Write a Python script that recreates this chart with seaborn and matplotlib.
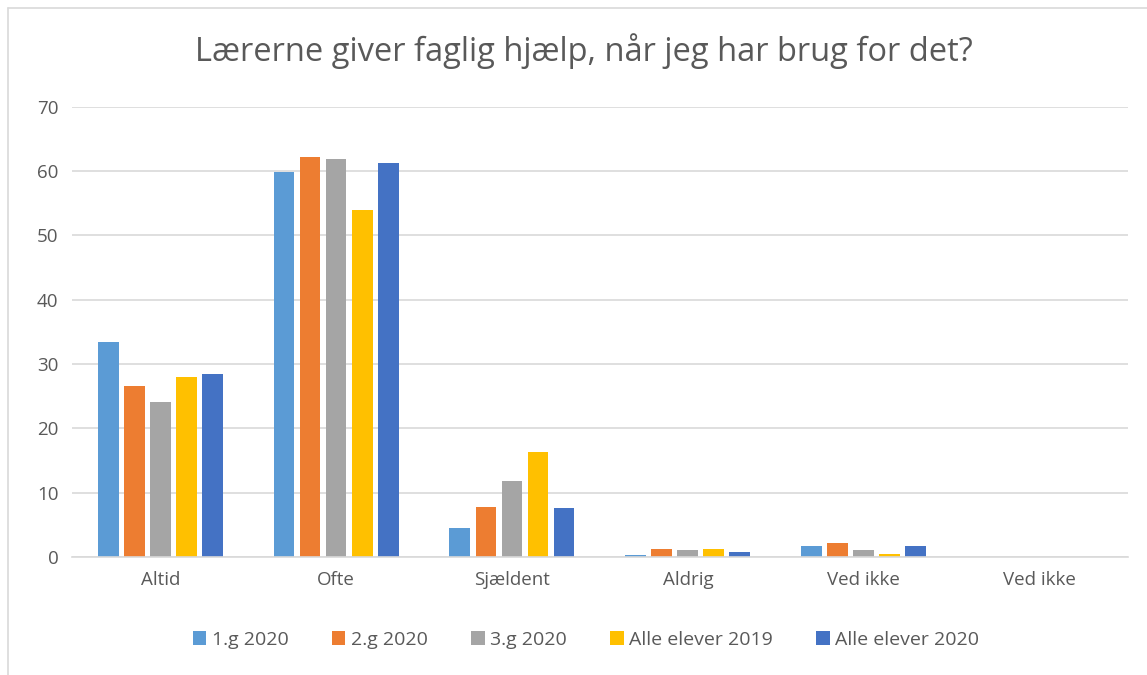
import numpy as np
import pandas as pd
import matplotlib
matplotlib.use("Agg")
import matplotlib.pyplot as plt
import seaborn as sns

# data (percent)
categories = ["Altid", "Ofte", "Sjældent", "Aldrig", "Ved ikke", "Ved ikke"]
series = ["1.g 2020", "2.g 2020", "3.g 2020", "Alle elever 2019", "Alle elever 2020"]
g1_2020 = [33.4, 59.9, 4.5, 0.3, 1.7, 0]
g2_2020 = [26.6, 62.1, 7.7, 1.3, 2.1, 0]
g3_2020 = [24.1, 61.9, 11.8, 1.0, 1.0, 0]
alle_2019 = [28.0, 54.0, 16.3, 1.3, 0.4, 0]
alle_2020 = [28.5, 61.3, 7.6, 0.8, 1.7, 0]
colors = ["#5B9BD5", "#ED7D31", "#A5A5A5", "#FFC000", "#4472C4"]

rows = []
for name, vals in zip(series, [g1_2020, g2_2020, g3_2020, alle_2019, alle_2020]):
    for i, v in enumerate(vals):
        rows.append({"pos": i, "serie": name, "value": v})
df = pd.DataFrame(rows)

sns.set_style("white")
plt.rcParams['font.family'] = ['Open Sans', 'DejaVu Sans']
text_col = "#595959"

fig = plt.figure(figsize=(11.47, 6.75), dpi=100)
ax = fig.add_axes([0.063, 0.175, 0.92, 0.667])

sns.barplot(data=df, x="pos", y="value", hue="serie", hue_order=series,
            palette=colors, saturation=1, width=0.74, gap=0.2, linewidth=0, ax=ax)

ax.set_ylim(0, 70)
ax.set_yticks(np.arange(0, 71, 10))
ax.set_xlim(-0.5, len(categories) - 0.5)
ax.set_xticks(range(len(categories)))
ax.set_xticklabels(categories)
ax.set_xlabel("")
ax.set_ylabel("")
ax.grid(axis="y", color="#D9D9D9", linewidth=1.2)
ax.set_axisbelow(True)
for s in ["top", "right", "left"]:
    ax.spines[s].set_visible(False)
ax.spines["bottom"].set_color("#D9D9D9")
ax.spines["bottom"].set_linewidth(1.2)
ax.tick_params(axis="both", length=0, colors=text_col, labelsize=13.5, pad=10)

fig.text(0.509, 0.925, "Lærerne giver faglig hjælp, når jeg har brug for det?",
         ha="center", va="center", fontsize=23.5, color=text_col)

ax.legend_.remove()
handles, labels = ax.get_legend_handles_labels()
fig.legend(handles, labels, loc="center", bbox_to_anchor=(0.511, 0.052), ncol=5,
           frameon=False, fontsize=14, labelcolor=text_col,
           handlelength=0.7, handleheight=0.7, handletextpad=0.3, columnspacing=2.2)

# outer chart border
fig.add_artist(plt.Line2D([8 / 1147, 1], [1 - 8 / 675, 1 - 8 / 675], color="#D9D9D9", lw=1.2))
fig.add_artist(plt.Line2D([8 / 1147, 8 / 1147], [0, 1 - 8 / 675], color="#D9D9D9", lw=1.2))

fig.savefig("out.png", dpi=100)
